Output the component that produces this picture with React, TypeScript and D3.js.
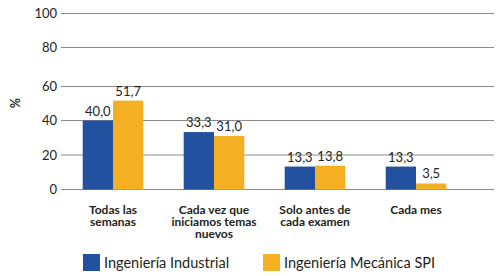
import React from "react";
import * as d3 from "d3";

const categories = [
  ["Todas las", "semanas"],
  ["Cada vez que", "iniciamos temas", "nuevos"],
  ["Solo antes de", "cada examen"],
  ["Cada mes"],
];
const seriesNames = ["Ingeniería Industrial", "Ingeniería Mecánica SPI"];
const industrial = [40.0, 33.3, 13.3, 13.3];
const mecanica = [51.7, 31.0, 13.8, 3.5];
const yTicks = [0, 20, 40, 60, 80, 100];
const colors = ["#22529F", "#F5AF22"];

const FONT = "Lato, 'Open Sans', sans-serif";

export default function App() {
  const W = 501, H = 276;
  const x = d3
    .scaleBand<number>()
    .domain(d3.range(categories.length))
    .range([62.5, 466.5])
    .paddingInner(0.4)
    .paddingOuter(0.2);
  const xs = d3.scaleBand<number>().domain([0, 1]).range([0, x.bandwidth()]);
  const y = d3
    .scaleLinear()
    .domain(yTicks)
    .range([189.5, 155, 120.5, 86.5, 47.5, 13.5]);
  const fmt = (v: number) => v.toFixed(1).replace(".", ",");
  const series = [industrial, mecanica];

  return (
    <svg width={W} height={H} style={{ position: "absolute", left: 0, top: 0, background: "#fff" }}>
      {yTicks.map((t) => (
        <g key={t}>
          <line x1={61} x2={494} y1={y(t)} y2={y(t)} stroke="#8a8a8a" strokeWidth={1.2} />
          <text x={57} y={y(t) + 4.5} textAnchor="end" fontFamily={FONT} fontSize={13} fill="#231f20">
            {t}
          </text>
        </g>
      ))}
      <text
        transform={`translate(20,${103}) rotate(-90)`}
        textAnchor="middle"
        fontFamily={FONT}
        fontSize={12.5}
        fontWeight="bold"
        fill="#231f20"
      >
        %
      </text>
      {categories.map((c, i) => (
        <g key={i}>
          {series.map((s, j) => {
            const bx = (x(i) as number) + (xs(j) as number);
            return (
              <g key={j}>
                <rect x={bx} y={y(s[i])} width={xs.bandwidth()} height={y(0) - y(s[i])} fill={colors[j]} />
                <text
                  x={bx + xs.bandwidth() / 2}
                  y={y(s[i]) - 5}
                  textAnchor="middle"
                  fontFamily={FONT}
                  fontSize={13}
                  fill="#231f20"
                >
                  {fmt(s[i])}
                </text>
              </g>
            );
          })}
          {c.map((line, k) => (
            <text
              key={k}
              x={(x(i) as number) + x.bandwidth() / 2}
              y={214 + k * 12}
              textAnchor="middle"
              fontFamily={FONT}
              fontSize={12}
              fontWeight="bold"
              fill="#231f20"
            >
              {line}
            </text>
          ))}
        </g>
      ))}
      {seriesNames.map((n, j) => {
        const lx = j === 0 ? 83 : 263;
        return (
          <g key={n}>
            <rect x={lx} y={254} width={17} height={17} fill={colors[j]} />
            <text x={lx + 21} y={267.5} fontFamily={FONT} fontSize={14.5} fill="#231f20">
              {n}
            </text>
          </g>
        );
      })}
    </svg>
  );
}
